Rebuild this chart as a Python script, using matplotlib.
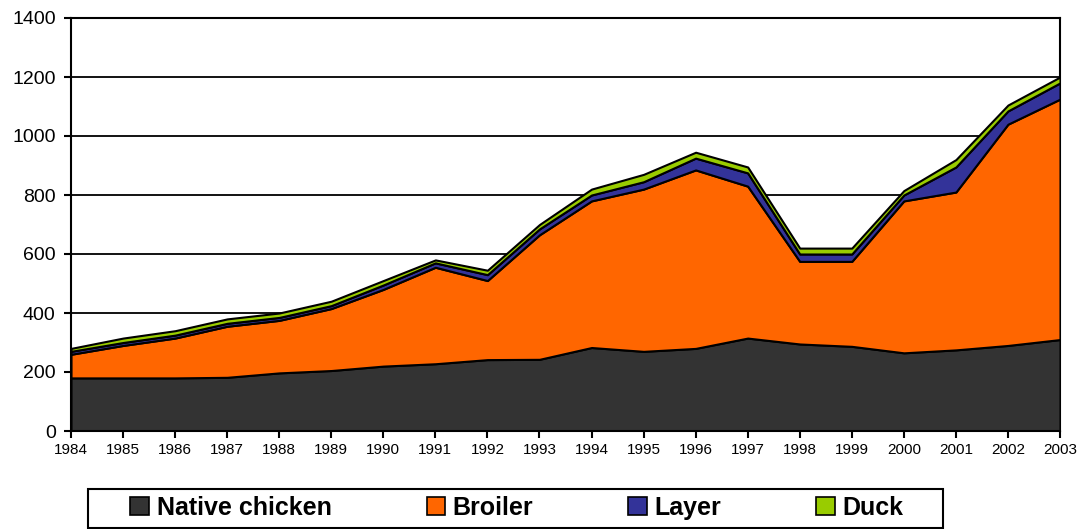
import numpy as np
import matplotlib.pyplot as plt
from matplotlib.patches import Rectangle

plt.rcParams['font.family'] = ['Liberation Sans', 'DejaVu Sans']

years = list(range(1984, 2004))
native = [180, 180, 180, 182, 197, 205, 220, 228, 242, 243, 283, 270, 280, 315, 295, 287, 265, 275, 290, 310]
broiler = [80, 110, 135, 173, 178, 210, 260, 327, 268, 422, 497, 550, 605, 515, 280, 288, 515, 535, 750, 815]
layer = [10, 10, 10, 10, 10, 10, 15, 15, 20, 20, 20, 25, 40, 45, 25, 25, 20, 85, 45, 55]
duck = [10, 15, 15, 15, 15, 15, 15, 10, 15, 15, 20, 25, 20, 20, 20, 20, 15, 25, 20, 20]

labels = ['Native chicken', 'Broiler', 'Layer', 'Duck']
colors = ['#333333', '#ff6600', '#333399', '#99cc00']

W, H = 1081, 529
fig = plt.figure(figsize=(W / 100, H / 100), dpi=100)
ax = fig.add_axes([71 / W, 1 - 431 / H, (1060 - 71) / W, (431 - 18) / H])

polys = ax.stackplot(years, native, broiler, layer, duck, colors=colors,
                     labels=labels, edgecolor='black', linewidth=1.5, zorder=3)

ax.set_xlim(1984, 2003)
ax.set_ylim(0, 1400)
ax.set_yticks(range(0, 1401, 200))
ax.set_xticks(years)
ax.tick_params(axis='y', labelsize=14, width=1.5, length=5, direction='out', pad=6)
ax.tick_params(axis='x', labelsize=11, width=1.5, length=5, direction='out', pad=4)
ax.yaxis.grid(True, color='black', linewidth=1.3, zorder=1)
ax.set_axisbelow(True)
for side in ['left', 'bottom', 'right', 'top']:
    ax.spines[side].set_linewidth(1.5)
ax.spines['left'].set_zorder(5)
ax.spines['bottom'].set_zorder(5)

# legend box drawn separately (wide side padding like the original)
fig.patches.append(Rectangle((88 / W, 1 - 528 / H), (943 - 88) / W, 39 / H,
                             transform=fig.transFigure, facecolor='white',
                             edgecolor='black', linewidth=1.5))
leg = fig.legend(handles=polys, labels=labels, loc='center', ncol=4,
                 bbox_to_anchor=(517 / W, 1 - 508 / H), frameon=False,
                 prop={'weight': 'bold', 'size': 18}, columnspacing=3.8,
                 handlelength=0.75, handleheight=0.75, handletextpad=0.3,
                 borderpad=0.1)
for h in leg.legend_handles:
    h.set_linewidth(1.2)

fig.savefig('out.png', dpi=100)
